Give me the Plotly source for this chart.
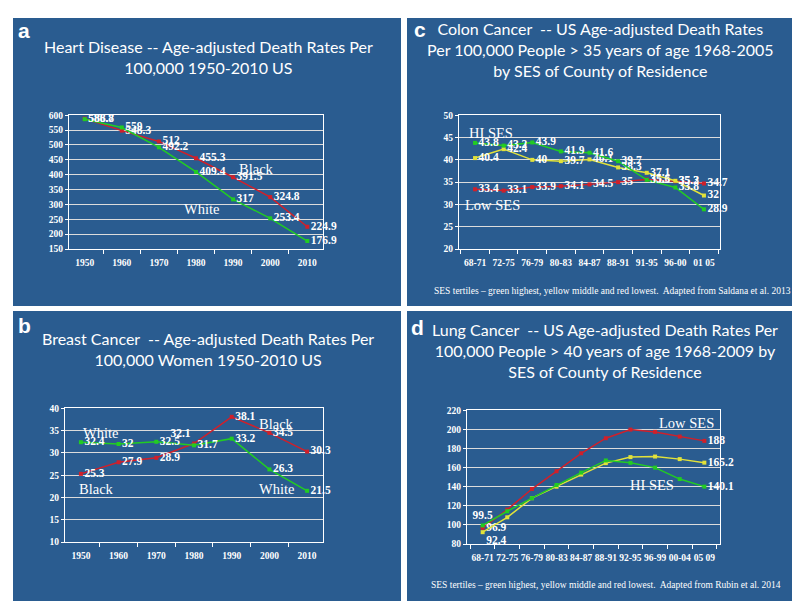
import plotly.graph_objects as go

W, H = 800, 603

# ---------------- data ----------------
years = ['1950', '1960', '1970', '1980', '1990', '2000', '2010']
heart_white = [586.8, 559, 492.2, 409.4, 317, 253.4, 176.9]
heart_black = [588.7, 548.3, 512, 455.3, 391.5, 324.8, 224.9]

breast_white = [32.4, 32, 32.5, 31.7, 33.2, 26.3, 21.5]
breast_black = [25.3, 27.9, 28.9, 32.1, 38.1, 34.5, 30.3]

colon_periods = ['68-71', '72-75', '76-79', '80-83', '84-87', '88-91', '91-95', '96-00', '01 05']
colon_hi = [43.8, 43.2, 43.9, 41.9, 41.6, 39.7, 35.5, 33.8, 28.9]
colon_mid = [40.4, 42.4, 40, 39.7, 40.1, 38.3, 37.1, 35.3, 32]
colon_low = [33.4, 33.1, 33.9, 34.1, 34.5, 35, 35.6, 35.2, 34.7]

lung_periods = ['68-71', '72-75', '76-79', '80-83', '84-87', '88-91', '92-95', '96-99', '00-04', '05 09']
lung_hi = [99.5, 114.3, 128, 141.8, 154.8, 167.5, 165, 160, 148, 140.1]
lung_mid = [92.4, 108, 128, 140, 152.7, 164.7, 171, 171.6, 168.9, 165.2]
lung_low = [96.9, 116, 137.6, 156.2, 175, 190.8, 199.8, 197.4, 192.5, 188]

# ---------------- style ----------------
BG = '#2a5c90'
RED = '#d0202a'
GREEN = '#22cc22'
YELLOW = '#e2e23a'
GRID = '#dcdcdc'
SERIF = 'Liberation Serif'
SANS = 'Lato'


def xp(px):
    return px / W


def yp(py):
    return 1 - py / H


fig = go.Figure()

# panel backgrounds
panels = [(5, 5, 393, 298), (399, 5, 797, 298), (5, 303, 393, 598), (399, 303, 797, 598)]
for x0, y0, x1, y1 in panels:
    fig.add_shape(type='rect', xref='paper', yref='paper', x0=xp(x0), x1=xp(x1), y0=yp(y1), y1=yp(y0),
                  fillcolor=BG, line=dict(width=0), layer='below')


def label_texts(vals, show=None):
    out = []
    for i, v in enumerate(vals):
        if show is None or i in show:
            out.append(('%g' % v))
        else:
            out.append('')
    return out


def add_series(xa, ya, cats, vals, color, positions, show=None):
    fig.add_trace(go.Scatter(
        x=cats, y=vals, xaxis=xa, yaxis=ya, mode='lines+markers+text',
        line=dict(color=color, width=1.5),
        marker=dict(color=color, size=4, symbol='square'),
        text=label_texts(vals, show), textposition=positions,
        textfont=dict(family=SERIF, size=11.5, color='white', weight='bold'),
        cliponaxis=False, showlegend=False, hoverinfo='skip'))


n7 = len(years)
# panel a
add_series('x', 'y', years, heart_black, RED, ['middle right'] * n7)
add_series('x', 'y', years, heart_white, GREEN, ['middle right'] * n7)
# panel c
nc = len(colon_periods)
add_series('x2', 'y2', colon_periods, colon_low, RED, ['middle right'] * nc)
add_series('x2', 'y2', colon_periods, colon_mid, YELLOW, ['middle right'] * nc)
add_series('x2', 'y2', colon_periods, colon_hi, GREEN, ['middle right'] * nc)
# panel b
pos_b_black = ['middle right', 'middle right', 'middle right', 'top left', 'middle right', 'middle right', 'middle right']
add_series('x3', 'y3', years, breast_black, RED, pos_b_black)
add_series('x3', 'y3', years, breast_white, GREEN, ['middle right'] * n7)
# panel d
nl = len(lung_periods)
add_series('x4', 'y4', lung_periods, lung_low, RED, ['middle right'] * nl, show=[0, nl - 1])
add_series('x4', 'y4', lung_periods, lung_mid, YELLOW, ['bottom right'] + ['middle right'] * (nl - 1), show=[0, nl - 1])
add_series('x4', 'y4', lung_periods, lung_hi, GREEN, ['top center'] + ['middle right'] * (nl - 1), show=[0, nl - 1])

tickfont = dict(family=SERIF, size=9.5, color='white', weight='bold')


def xaxis(px0, px1, anchor):
    return dict(domain=[xp(px0), xp(px1)], anchor=anchor, type='category',
                showline=True, linecolor='white', linewidth=1, mirror=True,
                ticks='outside', tickson='boundaries', ticklen=4, tickcolor='white',
                tickangle=0, ticklabelstandoff=5,
                showgrid=False, tickfont=tickfont, fixedrange=True)


def yaxis(py0, py1, anchor, rng, dtick):
    return dict(domain=[yp(py1), yp(py0)], anchor=anchor, range=rng, dtick=dtick,
                showline=True, linecolor='white', linewidth=1, mirror=True,
                ticks='outside', ticklen=3, tickcolor='white',
                showgrid=True, gridcolor=GRID, gridwidth=1, zeroline=False,
                tickfont=tickfont, fixedrange=True)


fig.update_layout(
    width=W, height=H, margin=dict(l=0, r=0, t=0, b=0),
    paper_bgcolor='white', plot_bgcolor='rgba(0,0,0,0)',
    xaxis=xaxis(61, 315, 'y'), yaxis=yaxis(104, 240, 'x', [150, 600], 50),
    xaxis2=xaxis(451, 712, 'y2'), yaxis2=yaxis(104, 240, 'x2', [20, 50], 5),
    xaxis3=xaxis(57, 315, 'y3'), yaxis3=yaxis(402, 538, 'x3', [10, 40], 5),
    xaxis4=xaxis(459, 712, 'y4'), yaxis4=yaxis(404, 540, 'x4', [80, 220], 20),
)


def ann(text, x, y, size, family, color='white', weight='normal', xanchor='center'):
    fig.add_annotation(text=text, x=xp(x), y=yp(y), xref='paper', yref='paper', showarrow=False,
                       xanchor=xanchor, yanchor='middle',
                       font=dict(family=family, size=size, color=color, weight=weight))


# titles
ann('Heart Disease -- Age-adjusted Death Rates Per<br>100,000 1950-2010 US', 200, 45, 16, SANS)
ann('Colon Cancer  -- US Age-adjusted Death Rates<br>Per 100,000 People > 35 years of age 1968-2005<br>by SES of County of Residence', 592, 37, 16, SANS)
ann('Breast Cancer  -- Age-adjusted Death Rates Per<br>100,000 Women 1950-2010 US', 200, 342, 16, SANS)
ann('Lung Cancer  -- US Age-adjusted Death Rates Per<br>100,000 People > 40 years of age 1968-2009 by<br>SES of County of Residence', 597, 343, 16, SANS)

# panel letters
ann('a', 16, 18, 21, 'Liberation Sans', weight='bold')
ann('c', 412, 17, 21, 'Liberation Sans', weight='bold')
ann('b', 16, 318, 21, 'Liberation Sans', weight='bold')
ann('d', 410, 320, 21, 'Liberation Sans', weight='bold')

# series name labels
ann('Black', 248, 159, 14.5, SERIF)
ann('White', 193, 199, 14.5, SERIF)
ann('HI SES', 483, 122, 14.5, SERIF)
ann('Low SES', 485, 195, 14.5, SERIF)
ann('White', 92, 427, 14.5, SERIF)
ann('Black', 88, 484, 14.5, SERIF)
ann('Black', 268, 418, 14.5, SERIF)
ann('White', 268, 484, 14.5, SERIF)
ann('Low SES', 678, 417, 14.5, SERIF)
ann('HI SES', 644, 480, 14.5, SERIF)

# captions
ann('SES tertiles \u2013 green highest, yellow middle and red lowest.  Adapted from Saldana et al. 2013', 604, 283, 9.5, SERIF)
ann('SES tertiles \u2013 green highest, yellow middle and red lowest.  Adapted from Rubin et al. 2014', 598, 582, 9.5, SERIF)

fig.write_html('out.html')
